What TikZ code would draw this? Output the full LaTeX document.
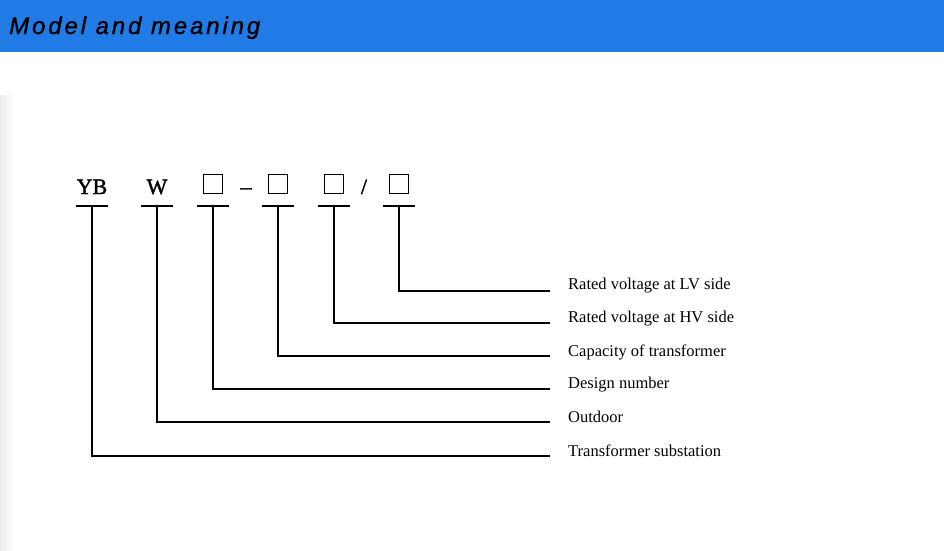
\documentclass[tikz,border=0pt]{standalone}
\usepackage{fontspec}
\setmainfont{Liberation Serif}
\newfontfamily\titlefont[LetterSpace=12,FakeBold=1.2]{Liberation Sans}
\newfontfamily\codefont[FakeBold=1.5]{Liberation Serif}
\begin{document}
\begin{tikzpicture}[x=1pt,y=-1pt,
  code/.style={font=\codefont\fontsize{22}{24}\selectfont, anchor=base, inner sep=0},
  sq/.style={draw, line width=1pt, minimum size=19pt, inner sep=0, anchor=south},
  lab/.style={font=\fontsize{16.5}{18}\selectfont, anchor=west, inner sep=0},
  bar/.style={line width=2.4pt},
  conn/.style={line width=2.2pt}]
\useasboundingbox (0,0) rectangle (944,550);
\fill[white] (0,0) rectangle (944,550);
\fill[left color=black!8, right color=white] (0,95) rectangle (14,550);
\fill[fill={rgb,255:red,32;green,123;blue,230}] (0,0) rectangle (944,52);
\node[anchor=base west, inner sep=0, font=\titlefont\fontsize{24}{26}\selectfont\itshape] (title) at (9,34) {Model and meaning};
% code letters
\node[code] (yb) at (92,194) {YB};
\node[code] (w) at (157,194) {W};
\node[sq] (b1) at (213,194) {};
\node[code] (dash) at (246,194) {–};
\node[sq] (b2) at (278,194) {};
\node[sq] (b3) at (334,194) {};
\node[code] (slash) at (364,194) {/};
\node[sq] (b4) at (399,194) {};
% bars
\foreach \n/\x in {yb/92,w/157,b1/213,b2/278,b3/334,b4/399}{
  \coordinate (t\n) at (\x,206);
  \draw[bar] (\x-16,206) -- (\x+16,206);
}
% labels
\node[lab] (l1) at (568,286) {Rated voltage at LV side};
\node[lab] (l2) at (568,319) {Rated voltage at HV side};
\node[lab] (l3) at (568,352) {Capacity of transformer};
\node[lab] (l4) at (568,385) {Design number};
\node[lab] (l5) at (568,417) {Outdoor};
\node[lab] (l6) at (568,451) {Transformer substation};
\foreach \n/\l/\y in {b4/l1/291,b3/l2/323,b2/l3/356,b1/l4/389,w/l5/422,yb/l6/456}{
  \coordinate (e\l) at (550,\y);
  \draw[conn] (t\n) |- (e\l);
}
\end{tikzpicture}
\end{document}
